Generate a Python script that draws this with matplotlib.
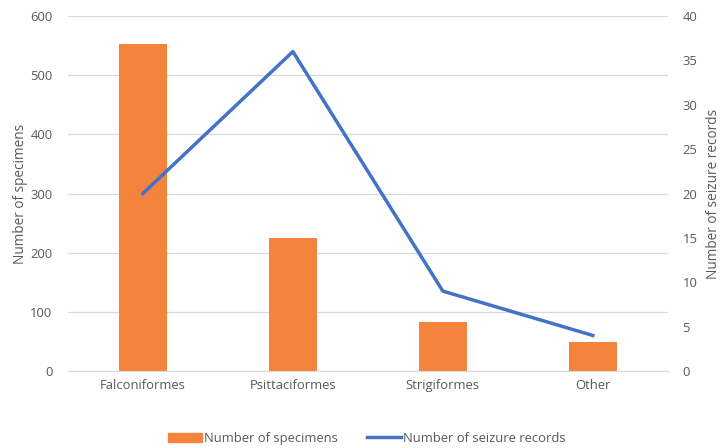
import matplotlib
matplotlib.use("Agg")
import matplotlib.pyplot as plt
from matplotlib.lines import Line2D
from matplotlib.patches import Patch

# data
orders = ["Falconiformes", "Psittaciformes", "Strigiformes", "Other"]
specimens = [553, 224, 83, 49]
seizures = [20, 36, 9, 4]

plt.rcParams["font.family"] = ["Open Sans", "DejaVu Sans"]
txt = "#595959"
orange = "#F4843D"
blue = "#4472C4"

fig = plt.figure(figsize=(7.22, 4.48), dpi=100)
ax = fig.add_axes([0.094, 0.172, 0.831, 0.792])
x = list(range(len(orders)))
ax.bar(x, specimens, width=0.32, color=orange, zorder=2)
ax.set_xlim(-0.5, len(orders) - 0.5)
ax.set_ylim(0, 600)
ax.set_yticks(range(0, 601, 100))
ax.set_xticks(x)
ax.set_xticklabels(orders)
ax.grid(axis="y", color="#D9D9D9", linewidth=0.9, zorder=0)
ax.set_ylabel("Number of specimens", color=txt, fontsize=9.8, labelpad=2)
for s in ["top", "right", "left"]:
    ax.spines[s].set_visible(False)
ax.spines["bottom"].set_color("#D9D9D9")
ax.tick_params(length=0, colors=txt, labelsize=9.4)
ax.tick_params(axis="y", pad=11)
ax.tick_params(axis="x", pad=6)

ax2 = ax.twinx()
ax2.plot(x, seizures, color=blue, linewidth=2.5, zorder=3)
ax2.set_ylim(0, 40)
ax2.set_yticks(range(0, 41, 5))
ax2.set_ylabel("Number of seizure records", color=txt, fontsize=9.8, labelpad=6)
for s in ax2.spines.values():
    s.set_visible(False)
ax2.tick_params(length=0, colors=txt, labelsize=9.4, pad=10.5)

handles = [Patch(color=orange, label="Number of specimens"),
           Line2D([], [], color=blue, linewidth=2.5, label="Number of seizure records")]
fig.legend(handles=handles, loc="center", bbox_to_anchor=(0.508, 0.022), ncol=2,
           frameon=False, fontsize=9.4, labelcolor=txt, handlelength=2.6,
           handletextpad=0.2, columnspacing=2.2)

fig.savefig("out.png", dpi=100)
